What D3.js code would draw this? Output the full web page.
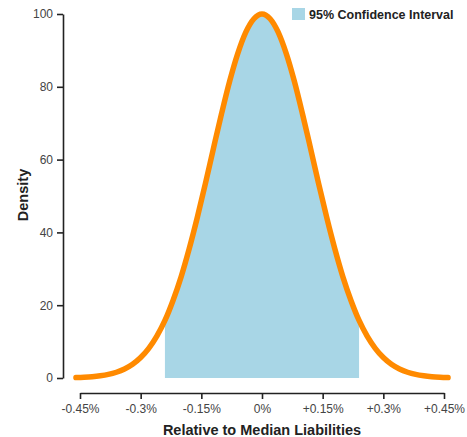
<!DOCTYPE html>
<html>
<head>
<meta charset="utf-8">
<script src="https://cdn.jsdelivr.net/npm/d3@7"></script>
<style>
  body { margin: 0; background: #fff; }
  text { font-family: 'Liberation Sans', Arial, sans-serif; }
</style>
</head>
<body>
<svg id="chart" width="467" height="437"></svg>
<script>
// values (relative change in %, density)
const xValues = [-0.46, -0.44, -0.42, -0.40, -0.38, -0.36, -0.34, -0.32, -0.30, -0.28, -0.26, -0.24,
  -0.22, -0.20, -0.18, -0.16, -0.14, -0.12, -0.10, -0.08, -0.06, -0.04, -0.02, 0,
  0.02, 0.04, 0.06, 0.08, 0.10, 0.12, 0.14, 0.16, 0.18, 0.20, 0.22, 0.24,
  0.26, 0.28, 0.30, 0.32, 0.34, 0.36, 0.38, 0.40, 0.42, 0.44, 0.46]
const densityValues = [0.11, 0.20, 0.35, 0.60, 0.98, 1.58, 2.47, 3.77, 5.61, 8.14, 11.5, 15.8,
  21.3, 27.8, 35.5, 44.1, 53.4, 63.1, 72.6, 81.5, 89.1, 95.0, 98.7, 100,
  98.7, 95.0, 89.1, 81.5, 72.6, 63.1, 53.4, 44.1, 35.5, 27.8, 21.3, 15.8,
  11.5, 8.14, 5.61, 3.77, 2.47, 1.58, 0.98, 0.60, 0.35, 0.20, 0.11]
const ciBounds = [-0.24, 0.24]
const xTicks = [-0.45, -0.3, -0.15, 0, 0.15, 0.3, 0.45]
const yTicks = [0, 20, 40, 60, 80, 100]
const legendLabel = '95% Confidence Interval'

const points = xValues.map((x, i) => ({ x, y: densityValues[i] }))

const svg = d3.select('#chart')

const x = d3.scaleLinear().domain([-0.45, 0.45]).range([80, 444])
const y = d3.scaleLinear().domain([0, 100]).range([378, 14])

const fmtPct = (v) => {
  if (v === 0) return '0%'
  return (v > 0 ? '+' : '-') + Math.abs(v) + '%'
}

// shaded confidence interval
const ciPoints = points.filter((p) => p.x >= ciBounds[0] - 1e-9 && p.x <= ciBounds[1] + 1e-9)
svg.append('path')
  .datum(ciPoints)
  .attr('fill', '#a8d6e6')
  .attr('d', d3.area().x((d) => x(d.x)).y0(y(0)).y1((d) => y(d.y)).curve(d3.curveMonotoneX))

// density curve
svg.append('path')
  .datum(points)
  .attr('fill', 'none')
  .attr('stroke', '#ff8a00')
  .attr('stroke-width', 5.5)
  .attr('stroke-linecap', 'round')
  .attr('stroke-linejoin', 'round')
  .attr('d', d3.line().x((d) => x(d.x)).y((d) => y(d.y)).curve(d3.curveMonotoneX))

// axes
const yAxis = svg.append('g')
  .attr('transform', 'translate(63,0)')
  .call(d3.axisLeft(y).tickValues(yTicks).tickSize(6).tickSizeOuter(0).tickPadding(4))

const xAxis = svg.append('g')
  .attr('transform', 'translate(0,393)')
  .call(d3.axisBottom(x).tickValues(xTicks).tickFormat(fmtPct).tickSize(6).tickSizeOuter(0).tickPadding(5))

;[xAxis, yAxis].forEach((g) => {
  g.select('.domain').attr('stroke', '#222').attr('stroke-width', 1.6)
  g.selectAll('.tick line').attr('stroke', '#222').attr('stroke-width', 1.6)
  g.selectAll('.tick text')
    .attr('fill', '#444')
    .style('font-size', '12px')
    .style('font-family', "'Liberation Sans', Arial, sans-serif")
})

// axis titles
svg.append('text')
  .attr('x', 262)
  .attr('y', 435)
  .attr('text-anchor', 'middle')
  .style('font-size', '14.5px')
  .style('font-weight', 'bold')
  .attr('fill', '#222')
  .text('Relative to Median Liabilities')

svg.append('text')
  .attr('transform', 'translate(28,195) rotate(-90)')
  .attr('text-anchor', 'middle')
  .style('font-size', '14.5px')
  .style('font-weight', 'bold')
  .attr('fill', '#222')
  .text('Density')

// legend
const legendG = svg.append('g').attr('transform', 'translate(292,8)')
legendG.append('rect')
  .attr('width', 13)
  .attr('height', 12)
  .attr('fill', '#a8d6e6')
legendG.append('text')
  .attr('x', 17)
  .attr('y', 10.5)
  .style('font-size', '12.5px')
  .style('font-weight', 'bold')
  .attr('fill', '#222')
  .text(legendLabel)
</script>
</body>
</html>
